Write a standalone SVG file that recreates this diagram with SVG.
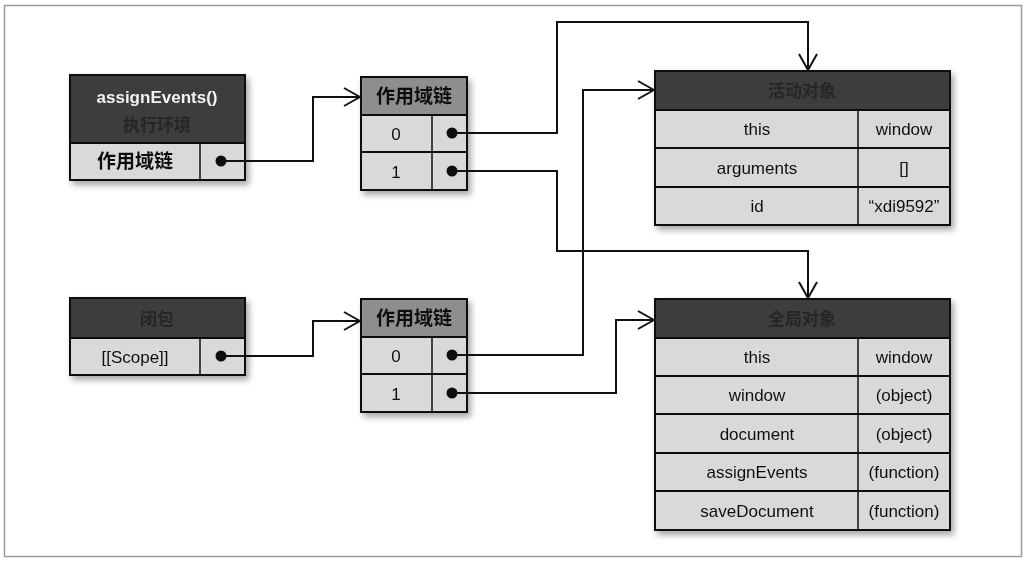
<svg xmlns="http://www.w3.org/2000/svg" width="1027" height="563" viewBox="0 0 1027 563">
  <defs>
    <filter id="shadow" x="-10%" y="-10%" width="125%" height="130%">
      <feDropShadow dx="3" dy="4" stdDeviation="3" flood-color="#000" flood-opacity="0.35"/>
    </filter>
    <marker id="vee" viewBox="0 0 20 20" refX="19" refY="10" markerWidth="20" markerHeight="20" markerUnits="userSpaceOnUse" orient="auto">
      <path d="M3,1 L19,10 L3,19" fill="none" stroke="#111" stroke-width="2"/>
    </marker>
  </defs>
  <style>
    .dark { fill: #3c3c3c; stroke: #111; stroke-width: 2; }
    .mid { fill: #8e8e8e; stroke: #111; stroke-width: 2; }
    .cell { fill: #d9d9d9; stroke: #111; stroke-width: 2; }
    .sep { stroke: #111; stroke-width: 1.5; }
    .t { font-family: "Liberation Sans", "Noto Sans CJK SC", sans-serif; font-size: 17px; fill: #111; text-anchor: middle; }
    .zh { font-family: "Noto Sans CJK SC", sans-serif; font-size: 19px; font-weight: bold; fill: #111; text-anchor: middle; }
    .hd { font-family: "Noto Sans CJK SC", sans-serif; font-size: 17px; font-weight: bold; fill: #262626; text-anchor: middle; }
    .white { font-family: "Liberation Sans", sans-serif; font-size: 17px; font-weight: bold; fill: #f2f2f2; text-anchor: middle; }
    .dot { fill: #111; }
    .conn { fill: none; stroke: #111; stroke-width: 2; }
  </style>

  <rect width="1027" height="563" fill="#fff"/>
  <rect x="4.5" y="5.5" width="1017" height="551" fill="none" stroke="#9a9a9a" stroke-width="1.5"/>

  <!-- execution context of assignEvents() -->
  <g id="exec-context" filter="url(#shadow)">
    <rect class="dark" x="70" y="75" width="175" height="68"/>
    <rect class="cell" x="70" y="143" width="175" height="37"/>
    <line class="sep" x1="200" y1="143" x2="200" y2="180"/>
    <text class="white" x="157" y="103">assignEvents()</text>
    <text class="hd" x="157" y="131">执行环境</text>
    <text class="zh" x="135" y="168">作用域链</text>
    <circle class="dot" cx="221" cy="161" r="5.5"/>
  </g>

  <!-- closure -->
  <g id="closure" filter="url(#shadow)">
    <rect class="dark" x="70" y="298" width="175" height="40"/>
    <rect class="cell" x="70" y="338" width="175" height="37"/>
    <line class="sep" x1="200" y1="338" x2="200" y2="375"/>
    <text class="hd" x="157" y="325">闭包</text>
    <text class="t" x="135" y="363">[[Scope]]</text>
    <circle class="dot" cx="221" cy="356" r="5.5"/>
  </g>

  <!-- scope chain of the execution context -->
  <g id="scope-chain-1" filter="url(#shadow)">
    <rect class="mid" x="361" y="77" width="106" height="38"/>
    <rect class="cell" x="361" y="115" width="106" height="37"/>
    <rect class="cell" x="361" y="152" width="106" height="38"/>
    <line class="sep" x1="432" y1="115" x2="432" y2="190"/>
    <text class="zh" x="414" y="103">作用域链</text>
    <text class="t" x="396" y="140">0</text>
    <text class="t" x="396" y="178">1</text>
    <circle class="dot" cx="452" cy="133" r="5.5"/>
    <circle class="dot" cx="452" cy="171" r="5.5"/>
  </g>

  <!-- scope chain of the closure -->
  <g id="scope-chain-2" filter="url(#shadow)">
    <rect class="mid" x="361" y="299" width="106" height="38"/>
    <rect class="cell" x="361" y="337" width="106" height="37"/>
    <rect class="cell" x="361" y="374" width="106" height="38"/>
    <line class="sep" x1="432" y1="337" x2="432" y2="412"/>
    <text class="zh" x="414" y="325">作用域链</text>
    <text class="t" x="396" y="362">0</text>
    <text class="t" x="396" y="400">1</text>
    <circle class="dot" cx="452" cy="355" r="5.5"/>
    <circle class="dot" cx="452" cy="393" r="5.5"/>
  </g>

  <!-- activation object -->
  <g id="activation-object" filter="url(#shadow)">
    <rect class="dark" x="655" y="71" width="295" height="39"/>
    <rect class="cell" x="655" y="110" width="295" height="38"/>
    <rect class="cell" x="655" y="148" width="295" height="39"/>
    <rect class="cell" x="655" y="187" width="295" height="38"/>
    <line class="sep" x1="858" y1="110" x2="858" y2="225"/>
    <text class="hd" x="802" y="97">活动对象</text>
    <text class="t" x="757" y="135">this</text>
    <text class="t" x="904" y="135">window</text>
    <text class="t" x="757" y="174">arguments</text>
    <text class="t" x="904" y="174">[]</text>
    <text class="t" x="757" y="212">id</text>
    <text class="t" x="904" y="212">“xdi9592”</text>
  </g>

  <!-- global object -->
  <g id="global-object" filter="url(#shadow)">
    <rect class="dark" x="655" y="299" width="295" height="39"/>
    <rect class="cell" x="655" y="338" width="295" height="38"/>
    <rect class="cell" x="655" y="376" width="295" height="38"/>
    <rect class="cell" x="655" y="414" width="295" height="39"/>
    <rect class="cell" x="655" y="453" width="295" height="38"/>
    <rect class="cell" x="655" y="491" width="295" height="39"/>
    <line class="sep" x1="858" y1="338" x2="858" y2="530"/>
    <text class="hd" x="802" y="325">全局对象</text>
    <text class="t" x="757" y="363">this</text>
    <text class="t" x="904" y="363">window</text>
    <text class="t" x="757" y="401">window</text>
    <text class="t" x="904" y="401">(object)</text>
    <text class="t" x="757" y="440">document</text>
    <text class="t" x="904" y="440">(object)</text>
    <text class="t" x="757" y="478">assignEvents</text>
    <text class="t" x="904" y="478">(function)</text>
    <text class="t" x="757" y="517">saveDocument</text>
    <text class="t" x="904" y="517">(function)</text>
  </g>

  <!-- connectors -->
  <g id="connectors">
    <path class="conn" d="M221,161 H313 V97 H360" marker-end="url(#vee)"/>
    <path class="conn" d="M221,356 H313 V321 H360" marker-end="url(#vee)"/>
    <path class="conn" d="M452,133 H557 V22 H808 V70" marker-end="url(#vee)"/>
    <path class="conn" d="M452,171 H557 V251 H808 V298" marker-end="url(#vee)"/>
    <path class="conn" d="M452,355 H583 V90 H654" marker-end="url(#vee)"/>
    <path class="conn" d="M452,393 H616 V320 H654" marker-end="url(#vee)"/>
  </g>
</svg>
